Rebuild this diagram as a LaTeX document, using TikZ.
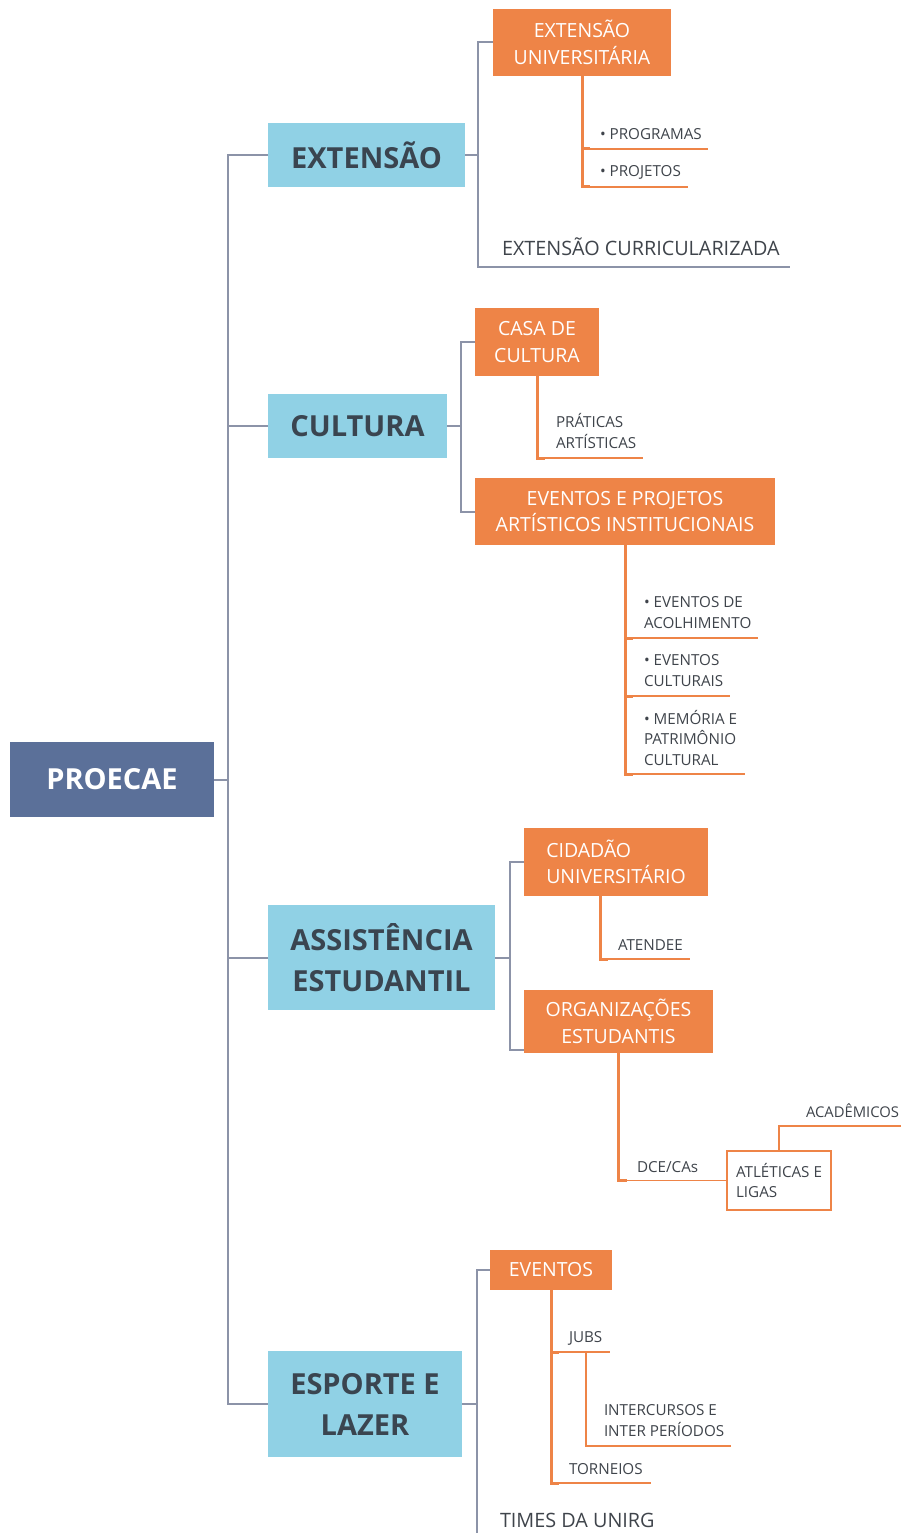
\documentclass[tikz,border=0pt]{standalone}
\usepackage{fontspec}
\setmainfont{Open Sans}
\definecolor{slate}{HTML}{5B7099}
\definecolor{sky}{HTML}{90D1E5}
\definecolor{orng}{HTML}{EE8447}
\definecolor{linegray}{HTML}{8C93A8}
\definecolor{txt}{HTML}{3F444B}
\definecolor{boxtxt}{HTML}{3A4550}
\begin{document}
\begin{tikzpicture}[x=1pt,y=-1pt,
  every node/.style={inner sep=0pt, outer sep=0pt},
  rootbox/.style={fill=slate, text=white, font=\bfseries\fontsize{29}{35}\selectfont, anchor=north west},
  bluebox/.style={fill=sky, text=boxtxt, font=\bfseries\fontsize{29}{41}\selectfont, align=center, anchor=north west},
  orangebox/.style={fill=orng, text=white, font=\fontsize{19.5}{26.5}\selectfont, align=center, anchor=north west},
  itemtxt/.style={text=txt, font=\fontsize{15.2}{20.5}\selectfont, align=left, anchor=base west},
  bigitem/.style={text=txt, font=\fontsize{19.8}{25}\selectfont, anchor=base west},
  outlinebox/.style={draw=orng, line width=1.5pt, fill=white, text=txt, font=\fontsize{15.2}{20.5}\selectfont, align=left, anchor=north west},
  trunk/.style={draw=linegray, line width=2pt},
  oline/.style={draw=orng, line width=3pt},
  othin/.style={draw=orng, line width=1.5pt},
]
\fill[white] (0,0) rectangle (900,1533);
\useasboundingbox (0,0) rectangle (900,1533);

% main nodes
\node[rootbox, minimum width=204, minimum height=75] (root) at (10,742) {PROECAE};
\node[bluebox, minimum width=197, minimum height=64] (ext) at (268,123) {EXTENSÃO};
\node[bluebox, minimum width=179, minimum height=64] (cult) at (268,394) {CULTURA};
\node[bluebox, minimum width=227, minimum height=105] (assist) at (268,905) {ASSISTÊNCIA\\ESTUDANTIL};
\node[bluebox, minimum width=194, minimum height=106] (esp) at (268,1351) {ESPORTE E\\LAZER};

% trunk
\coordinate (tTop) at (228,155);
\coordinate (tBot) at (228,1404);
\draw[trunk] (ext.west) -- (tTop) -- (tBot) -- (esp.west);
\draw[trunk] (cult.west) -- (cult.west -| tTop);
\draw[trunk] (assist.west) -- (assist.west -| tTop);
\draw[trunk] (root.east) -- (root.east -| tTop);

% EXTENSAO
\node[orangebox, minimum width=178, minimum height=67] (eu) at (493,9) {EXTENSÃO\\UNIVERSITÁRIA};
\node[bigitem] (ecur) at (502,255) {EXTENSÃO CURRICULARIZADA};
\coordinate (exJ) at (478,155);
\coordinate (ecEnd) at (790,267);
\draw[trunk] (ext.east) -- (exJ);
\draw[trunk] (eu.west) -- (eu.west -| exJ) -- (exJ |- ecEnd) -- (ecEnd);
\node[itemtxt] (prog) at (600,140) {• PROGRAMAS};
\node[itemtxt] (proj) at (600,177) {• PROJETOS};
\coordinate (progL) at (582,149);
\coordinate (projL) at (582,187);
\draw[othin] (progL) -- (708,149);
\draw[othin] (projL) -- (688,187);
\draw[oline] (eu.south) -- (projL) -- ++(8,0);
\draw[oline] (progL) -- ++(8,0);

% CULTURA
\node[orangebox, minimum width=124, minimum height=68] (casa) at (475,308) {CASA DE\\CULTURA};
\node[orangebox, minimum width=300, minimum height=67] (evp) at (475,478) {EVENTOS E PROJETOS\\ARTÍSTICOS INSTITUCIONAIS};
\coordinate (cuJ) at (461,426);
\draw[trunk] (cult.east) -- (cuJ);
\draw[trunk] (casa.west) -- (casa.west -| cuJ) -- (evp.west -| cuJ) -- (evp.west);
\node[itemtxt] (prat) at (556,448) {PRÁTICAS\\ARTÍSTICAS};
\coordinate (pratL) at (537,458);
\draw[othin] (pratL) -- (643,458);
\draw[oline] (casa.south) -- (pratL) -- ++(8,0);

\node[itemtxt] (eac) at (644,628) {• EVENTOS DE\\ACOLHIMENTO};
\node[itemtxt] (ecu) at (644,686) {• EVENTOS\\CULTURAIS};
\node[itemtxt] (mem) at (644,765) {• MEMÓRIA E\\PATRIMÔNIO\\CULTURAL};
\coordinate (eacL) at (625,638);
\coordinate (ecuL) at (625,696);
\coordinate (memL) at (625,774);
\draw[othin] (eacL) -- (758,638);
\draw[othin] (ecuL) -- (730,696);
\draw[othin] (memL) -- (745,774);
\draw[oline] (evp.south) -- (memL) -- ++(8,0);
\draw[oline] (eacL) -- ++(8,0);
\draw[oline] (ecuL) -- ++(8,0);

% ASSISTENCIA
\node[orangebox, align=left, minimum width=184, minimum height=68] (cid) at (524,828) {CIDADÃO\\UNIVERSITÁRIO};
\node[orangebox, minimum width=189, minimum height=63] (org) at (524,990) {ORGANIZAÇÕES\\ESTUDANTIS};
\coordinate (asJ) at (510,957.5);
\coordinate (orgIn) at (524,1050);
\draw[trunk] (assist.east) -- (asJ);
\draw[trunk] (cid.west) -- (cid.west -| asJ) -- (orgIn -| asJ) -- (orgIn);
\node[itemtxt] (aten) at (618,950) {ATENDEE};
\coordinate (cidOut) at (600,896);
\coordinate (atenL) at (600,959);
\draw[othin] (atenL) -- (690,959);
\draw[oline] (cidOut) -- (atenL) -- ++(8,0);

\node[itemtxt] (dce) at (637,1172) {DCE/CAs};
\node[outlinebox, minimum width=104, minimum height=59] (atl) at (727,1151) {ATLÉTICAS E\\LIGAS};
\draw[othin] (org.south |- atl.west) -- (atl.west);
\draw[oline] (org.south) -- (org.south |- atl.west) -- ++(8,0);
\coordinate (acEnd) at (905,1126);
\draw[othin] (atl.north) -- (atl.north |- acEnd) -- (acEnd);
\node[itemtxt, font=\fontsize{14.8}{20}\selectfont] (acad) at (806,1117) {ACADÊMICOS};

% ESPORTE
\coordinate (esJ) at (477,1404);
\coordinate (esBot) at (477,1540);
\node[orangebox, minimum width=122, minimum height=40] (evt) at (490,1250) {EVENTOS};
\draw[trunk] (esp.east) -- (esJ);
\draw[trunk] (evt.west) -- (evt.west -| esJ) -- (esBot);
\node[itemtxt] (jubs) at (569,1342) {JUBS};
\node[itemtxt] (inter) at (604,1436) {INTERCURSOS E\\INTER PERÍODOS};
\node[itemtxt] (torn) at (569,1474) {TORNEIOS};
\node[bigitem] (times) at (500,1527) {TIMES DA UNIRG};
\coordinate (jubsL) at (551,1352);
\coordinate (tornL) at (551,1483);
\coordinate (jubsK) at (586,1352);
\draw[othin] (jubsL) -- (610,1352);
\draw[othin] (jubsK) -- (586,1446) -- (731,1446);
\draw[othin] (tornL) -- (651,1483);
\draw[oline] (evt.south) -- (tornL) -- ++(8,0);
\draw[oline] (jubsL) -- ++(8,0);
\end{tikzpicture}
\end{document}
